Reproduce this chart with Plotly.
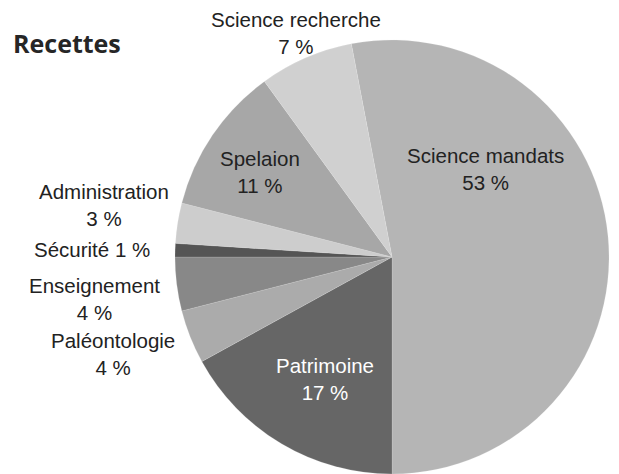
import plotly.graph_objects as go

title = "Recettes"
labels = ["Science mandats", "Patrimoine", "Paléontologie", "Enseignement",
          "Sécurité", "Administration", "Spelaion", "Science recherche"]
values = [53, 17, 4, 4, 1, 3, 11, 7]
pct_text = ["53 %", "17 %", "4 %", "4 %", "1 %", "3 %", "11 %", "7 %"]
colors = ["#b5b5b5", "#666666", "#ababab", "#888888",
          "#555555", "#cdcdcd", "#a7a7a7", "#d0d0d0"]

W, H = 619, 474
# label positions in pixels (x center, y center of text block), style only
label_pos = {
    "Science mandats": (485, 169, "#222222", "<br>"),
    "Patrimoine": (325, 379, "#ffffff", "<br>"),
    "Paléontologie": (113, 354, "#222222", "<br>"),
    "Enseignement": (95, 299, "#222222", "<br>"),
    "Sécurité": (92, 249, "#222222", " "),
    "Administration": (104, 205, "#222222", "<br>"),
    "Spelaion": (260, 172, "#222222", "<br>"),
    "Science recherche": (296, 33, "#222222", "<br>"),
}

rotation = 180 - 360 * values[0] / sum(values)

fig = go.Figure(go.Pie(
    labels=labels,
    values=values,
    sort=False,
    direction="clockwise",
    rotation=rotation,
    textinfo="none",
    hoverinfo="label+percent",
    marker=dict(colors=colors, line=dict(color="rgba(235,235,235,0.35)", width=0.5)),
    domain=dict(x=[(392 - 217) / W, (392 + 217) / W], y=[0, 434 / H]),
    showlegend=False,
))

annotations = []
for lab, pt in zip(labels, pct_text):
    x, y, col, sep = label_pos[lab]
    annotations.append(dict(
        text=lab + sep + pt, x=x / W, y=1 - y / H, xref="paper", yref="paper",
        xanchor="center", yanchor="middle", showarrow=False, align="center",
        font=dict(family="Liberation Sans, Arial, sans-serif", size=20.5, color=col),
    ))
annotations.append(dict(
    text="<b>" + title + "</b>", x=11 / W, y=1 - 43 / H, xref="paper", yref="paper",
    xanchor="left", yanchor="middle", showarrow=False,
    font=dict(family="Open Sans, sans-serif", size=25, color="#262626"),
))

fig.update_layout(
    width=W, height=H,
    margin=dict(l=0, r=0, t=0, b=0),
    paper_bgcolor="white", plot_bgcolor="white",
    annotations=annotations,
)

fig.write_html("out.html")
